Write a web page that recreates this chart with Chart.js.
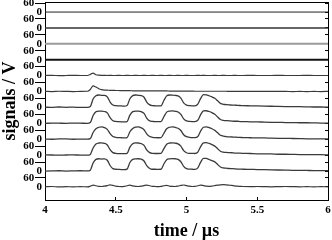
<!DOCTYPE html>
<html>
<head>
<meta charset="utf-8">
<script src="https://cdn.jsdelivr.net/npm/chart.js@4.4.0/dist/chart.umd.min.js"></script>
<style>
  html, body { margin: 0; padding: 0; background: #fff; }
  canvas { display: block; }
</style>
</head>
<body>
<canvas id="myChart" width="332" height="240"></canvas>
<script>
// time axis (us)
var times = [
  4.00, 4.05, 4.10, 4.15, 4.20, 4.25,
  4.30, 4.32, 4.34, 4.36, 4.38, 4.40, 4.42, 4.44, 4.46, 4.48,
  4.50, 4.52, 4.54, 4.56, 4.58, 4.60, 4.62, 4.64, 4.66, 4.68,
  4.70, 4.72, 4.74, 4.76, 4.78, 4.80, 4.82, 4.84, 4.86, 4.88,
  4.90, 4.92, 4.94, 4.96, 4.98, 5.00, 5.02, 5.04, 5.06, 5.08,
  5.10, 5.12, 5.14, 5.16, 5.18, 5.20, 5.22, 5.24, 5.26, 5.28,
  5.30, 5.32, 5.34, 5.36, 5.38, 5.40,
  5.45, 5.50, 5.55, 5.60, 5.65, 5.70, 5.75, 5.80, 5.85, 5.90, 5.95, 6.00
];
var flatTimes = [4, 6];

// signals in V, bottom trace first
var sig0 = [
  1, 3, 0, 2, 1, 2,
  1, 5, 12, 8, 4, 3, 5, 9, 14, 10,
  5, 3, 2, 4, 8, 12, 7, 4, 3, 5,
  9, 12, 8, 4, 3, 2, 4, 8, 10, 6,
  4, 3, 6, 10, 13, 9, 5, 3, 4, 8,
  12, 9, 5, 4, 6, 9, 12, 14, 15, 14,
  12, 10, 7, 5, 4, 3,
  2, 3, 2, 1, 2, 3, 2, 1, 2, 1, 2, 1
];
var sig1 = [
  0, 1, 2, 0, 1, 2,
  1, 6, 54, 78, 82, 80, 81, 72, 37, 16,
  12, 11, 10, 10, 13, 57, 78, 81, 82, 80,
  67, 34, 17, 12, 12, 11, 12, 47, 76, 81,
  83, 82, 78, 62, 31, 16, 13, 12, 11, 21,
  59, 84, 84, 77, 70, 61, 44, 27, 21, 19,
  17, 16, 15, 13, 13, 12,
  11, 10, 9, 8, 7, 6, 5, 5, 4, 3, 3, 2
];
var sig2 = [
  2, 1, 0, 1, 2, 0,
  0, 5, 48, 74, 81, 82, 79, 68, 37, 17,
  12, 10, 10, 10, 12, 53, 76, 82, 81, 77,
  65, 33, 17, 12, 11, 11, 12, 43, 73, 81,
  82, 80, 75, 60, 30, 16, 12, 12, 11, 20,
  57, 82, 83, 78, 70, 60, 43, 26, 20, 18,
  17, 16, 14, 13, 13, 12,
  11, 9, 9, 8, 6, 6, 5, 4, 4, 3, 3, 2
];
var sig3 = [
  1, 0, 2, 2, 0, 1,
  1, 4, 45, 70, 80, 83, 78, 66, 38, 18,
  13, 11, 10, 9, 11, 50, 72, 81, 82, 76,
  63, 34, 18, 13, 11, 10, 11, 40, 70, 80,
  83, 79, 73, 58, 30, 17, 13, 11, 11, 18,
  55, 80, 83, 78, 70, 59, 43, 27, 21, 18,
  16, 15, 14, 13, 12, 11,
  10, 9, 9, 7, 6, 6, 5, 4, 3, 3, 2, 2
];
var sig4 = [
  0, 2, 1, 0, 2, 1,
  0, 5, 52, 77, 82, 82, 79, 70, 38, 17,
  13, 11, 10, 10, 12, 55, 78, 82, 82, 78,
  66, 33, 16, 13, 11, 11, 12, 44, 75, 82,
  83, 80, 76, 60, 30, 17, 13, 12, 12, 21,
  58, 83, 84, 79, 71, 60, 42, 26, 20, 18,
  17, 15, 14, 14, 12, 12,
  10, 10, 8, 7, 7, 5, 5, 4, 4, 3, 2, 2
];
var sig5 = [
  2, 0, 3, 1, 2, 0,
  1, 6, 56, 78, 83, 81, 80, 71, 36, 16,
  12, 10, 10, 9, 13, 58, 79, 83, 81, 79,
  68, 34, 17, 12, 11, 10, 11, 46, 77, 83,
  82, 80, 77, 62, 31, 16, 12, 11, 11, 22,
  60, 85, 84, 78, 70, 61, 44, 27, 21, 19,
  17, 16, 15, 14, 13, 12,
  11, 10, 9, 8, 7, 6, 5, 5, 4, 3, 3, 2
];
var sig6 = [
  1, 0, 2, 1, 0, 1,
  2, 14, 38, 30, 19, 13, 10, 9, 8, 8,
  7, 7, 6, 6, 6, 6, 5, 5, 5, 5,
  5, 5, 4, 4, 4, 4, 4, 4, 4, 3,
  3, 3, 3, 3, 3, 3, 3, 3, 2, 2,
  2, 2, 2, 2, 2, 2, 2, 2, 2, 2,
  1, 1, 1, 1, 1, 1,
  1, 1, 1, 1, 1, 1, 0, 1, 0, 1, 0, 1
];
var sig7 = [
  1, 2, 0, 1, 2, 1,
  1, 8, 17, 6, 3, 2, 2, 1, 2, 1,
  1, 2, 1, 1, 2, 1, 1, 2, 1, 1,
  2, 1, 1, 2, 1, 1, 2, 1, 1, 2,
  1, 1, 2, 1, 1, 2, 1, 1, 1, 2,
  1, 2, 1, 1, 1, 2, 1, 1, 2, 1,
  1, 1, 2, 1, 1, 1,
  2, 1, 1, 1, 2, 1, 1, 1, 2, 1, 1, 1
];
var flatSig = [0, 0];

var yTickValues = [0, 60];
var yTickLabels = ['0', '60'];
var xTickLabels = ['4', '4.5', '5', '5.5', '6'];

var OFF = 106;      // vertical shift between traces
var NTRACE = 12;
var serif = "'Liberation Serif', 'Times New Roman', serif";

function pts(t, v, k) {
  return t.map(function (x, i) { return { x: x, y: v[i] + k * OFF }; });
}

function trace(t, v, k, color, w) {
  return {
    data: pts(t, v, k),
    borderColor: color,
    borderWidth: w,
    pointRadius: 0,
    fill: false,
    cubicInterpolationMode: 'monotone'
  };
}

function stackTicks(scale) {
  var ticks = [];
  for (var k = 0; k < NTRACE; k++) {
    for (var j = 0; j < yTickValues.length; j++) {
      ticks.push({ value: k * OFF + yTickValues[j] });
    }
  }
  scale.ticks = ticks;
}

var dark = '#3a3a3a';
var datasets = [
  trace(times, sig0, 0, dark, 1.2),
  trace(times, sig1, 1, dark, 1.3),
  trace(times, sig2, 2, dark, 1.3),
  trace(times, sig3, 3, dark, 1.3),
  trace(times, sig4, 4, dark, 1.3),
  trace(times, sig5, 5, dark, 1.3),
  trace(times, sig6, 6, dark, 1.2),
  trace(times, sig7, 7, dark, 1.2),
  trace(flatTimes, flatSig, 8, '#111', 2),
  trace(flatTimes, flatSig, 9, '#9a9a9a', 2),
  trace(flatTimes, flatSig, 10, '#333', 1.5),
  trace(flatTimes, flatSig, 11, '#222', 1)
];

var tickFont = { family: serif, weight: 'bold', size: 11 };

new Chart(document.getElementById('myChart'), {
  type: 'line',
  data: { datasets: datasets },
  options: {
    responsive: false,
    animation: false,
    layout: { padding: 0, autoPadding: false },
    plugins: { legend: { display: false }, tooltip: { enabled: false } },
    scales: {
      x: {
        type: 'linear', position: 'bottom', min: 4, max: 6,
        ticks: {
          stepSize: 0.5, padding: 7, color: '#000', font: tickFont, maxRotation: 0, autoSkip: false,
          callback: function (v, i) { return xTickLabels[i]; }
        },
        grid: { drawOnChartArea: false, tickLength: -3, tickColor: '#000' },
        border: { color: '#000', width: 1 },
        title: {
          display: true, text: 'time / µs', color: '#000', padding: 0,
          font: { family: serif, weight: 'bold', size: 18, lineHeight: 1 }
        },
        afterFit: function (s) { s.height = 40; s.paddingLeft = 0; s.paddingRight = 0; }
      },
      xTop: {
        type: 'linear', position: 'top', min: 4, max: 6,
        ticks: { display: false },
        grid: { drawOnChartArea: false, drawTicks: false },
        border: { color: '#000', width: 1 },
        afterFit: function (s) { s.height = 2; s.paddingLeft = 0; s.paddingRight = 0; }
      },
      y: {
        type: 'linear', position: 'left', min: -87, max: 1233,
        afterBuildTicks: stackTicks,
        ticks: {
          autoSkip: false, padding: -7, color: '#000', font: tickFont,
          callback: function (v, i) { return i % 2 ? yTickLabels[1] + '\u2007\u2009' : yTickLabels[0]; }
        },
        grid: {
          drawOnChartArea: false, tickLength: 10,
          tickColor: function (c) { return c.index % 2 ? '#000' : 'rgba(0,0,0,0)'; }
        },
        border: { color: '#000', width: 1 },
        title: {
          display: true, text: 'signals / V', color: '#000', padding: 0,
          font: { family: serif, weight: 'bold', size: 18 }
        },
        afterFit: function (s) { s.width = 45; s.paddingTop = 0; s.paddingBottom = 0; }
      },
      yRight: {
        type: 'linear', position: 'right', min: -87, max: 1233,
        afterBuildTicks: stackTicks,
        ticks: { display: false },
        grid: { drawOnChartArea: false, tickLength: -3, tickColor: '#000' },
        border: { color: '#000', width: 1 },
        afterFit: function (s) { s.width = 4; s.paddingTop = 0; s.paddingBottom = 0; }
      }
    }
  }
});
</script>
</body>
</html>
